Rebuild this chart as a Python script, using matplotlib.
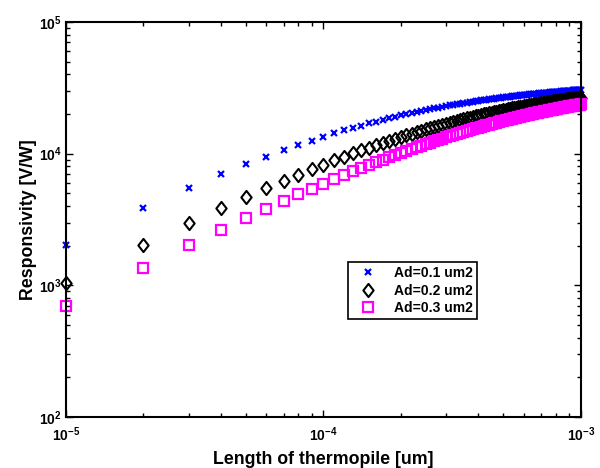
import numpy as np
import matplotlib
matplotlib.use('Agg')
import matplotlib.pyplot as plt
from matplotlib.path import Path

plt.rcParams['font.family'] = ['Liberation Sans', 'DejaVu Sans']
plt.rcParams['font.weight'] = 'bold'
plt.rcParams['mathtext.fontset'] = 'custom'
plt.rcParams['mathtext.rm'] = 'Liberation Sans:bold'
plt.rcParams['mathtext.bf'] = 'Liberation Sans:bold'

# length of thermopile, 1e-5 .. 1e-3 in steps of 1e-5
length = np.arange(1, 101) * 1e-5

resp_01 = [2040, 3860, 5490, 6960, 8290, 9510, 10620, 11640, 12580, 13450,
           14250, 15000, 15700, 16350, 16960, 17530, 18070, 18580, 19050, 19510,
           19930, 20340, 20720, 21090, 21440, 21770, 22090, 22390, 22680, 22950,
           23220, 23470, 23720, 23950, 24170, 24390, 24600, 24800, 24990, 25180,
           25360, 25530, 25700, 25860, 26020, 26170, 26320, 26460, 26600, 26730,
           26860, 26990, 27110, 27230, 27350, 27460, 27570, 27680, 27780, 27880,
           27980, 28070, 28170, 28260, 28350, 28430, 28520, 28600, 28680, 28760,
           28840, 28910, 28990, 29060, 29130, 29200, 29270, 29330, 29400, 29460,
           29520, 29580, 29640, 29700, 29760, 29810, 29870, 29920, 29980, 30030,
           30080, 30130, 30180, 30230, 30270, 30320, 30370, 30410, 30460, 30500]

resp_02 = [1040, 2030, 2960, 3840, 4670, 5460, 6210, 6930, 7610, 8260,
           8880, 9470, 10030, 10570, 11090, 11590, 12070, 12530, 12970, 13400,
           13810, 14200, 14580, 14950, 15300, 15640, 15980, 16300, 16610, 16910,
           17200, 17480, 17750, 18020, 18270, 18520, 18760, 19000, 19230, 19450,
           19670, 19880, 20090, 20290, 20480, 20670, 20860, 21040, 21210, 21390,
           21550, 21720, 21880, 22030, 22190, 22340, 22480, 22630, 22770, 22900,
           23040, 23170, 23300, 23420, 23550, 23670, 23790, 23900, 24020, 24130,
           24240, 24340, 24450, 24550, 24650, 24750, 24850, 24950, 25040, 25130,
           25220, 25310, 25400, 25490, 25570, 25660, 25740, 25820, 25900, 25980,
           26050, 26130, 26200, 26280, 26350, 26420, 26490, 26560, 26630, 26690]

resp_03 = [696, 1365, 2010, 2630, 3230, 3800, 4360, 4900, 5420, 5920,
           6400, 6870, 7330, 7770, 8190, 8610, 9010, 9400, 9780, 10140,
           10500, 10850, 11190, 11510, 11830, 12150, 12450, 12740, 13030, 13310,
           13590, 13850, 14110, 14370, 14620, 14860, 15100, 15330, 15560, 15780,
           16000, 16210, 16410, 16620, 16820, 17010, 17200, 17390, 17570, 17750,
           17930, 18100, 18270, 18430, 18600, 18760, 18910, 19070, 19220, 19360,
           19510, 19650, 19790, 19930, 20070, 20200, 20330, 20460, 20580, 20710,
           20830, 20950, 21070, 21190, 21300, 21410, 21520, 21630, 21740, 21850,
           21950, 22050, 22150, 22250, 22350, 22450, 22540, 22640, 22730, 22820,
           22910, 23000, 23090, 23170, 23260, 23340, 23430, 23510, 23590, 23670]

labels = ['Ad=0.1 um2', 'Ad=0.2 um2', 'Ad=0.3 um2']

# matlab style diamond (a bit taller than wide)
diamond = Path([(0, 1), (0.78, 0), (0, -1), (-0.78, 0), (0, 1)],
               [Path.MOVETO, Path.LINETO, Path.LINETO, Path.LINETO, Path.CLOSEPOLY])

fig = plt.figure(figsize=(6, 4.68), dpi=100)
ax = fig.add_axes([0.11, 0.109, 0.858, 0.844])

ax.plot(length, resp_01, linestyle='none', marker='x', color='#0000ff',
        markersize=3.8, markeredgewidth=1.6, label=labels[0], clip_on=False)
ax.plot(length, resp_02, linestyle='none', marker=diamond, color='black',
        markerfacecolor='none', markersize=9.5, markeredgewidth=1.5, label=labels[1], clip_on=False)
ax.plot(length, resp_03, linestyle='none', marker='s', color='#ff00ff',
        markerfacecolor='none', markersize=7.5, markeredgewidth=1.6, label=labels[2], clip_on=False)

ax.set_xscale('log')
ax.set_yscale('log')
ax.set_xlim(1e-5, 1e-3)
ax.set_ylim(1e2, 1e5)

ax.set_xticks([1e-5, 1e-4, 1e-3])
ax.set_xticklabels([r'$\mathbf{10^{-5}}$', r'$\mathbf{10^{-4}}$', r'$\mathbf{10^{-3}}$'])
ax.set_yticks([1e2, 1e3, 1e4, 1e5])
ax.set_yticklabels([r'$\mathbf{10^{2}}$', r'$\mathbf{10^{3}}$', r'$\mathbf{10^{4}}$', r'$\mathbf{10^{5}}$'])

ax.tick_params(which='both', direction='in', top=True, right=True, labelsize=10, width=1)
ax.tick_params(which='major', length=5)
ax.tick_params(which='minor', length=3)
ax.tick_params(axis='x', pad=6)
ax.tick_params(axis='y', pad=3)
for sp in ax.spines.values():
    sp.set_linewidth(1.5)

ax.set_xlabel('Length of thermopile [um]', fontsize=12.8, fontweight='bold', labelpad=5)
ax.set_ylabel('Responsivity [V/W]', fontsize=12.8, fontweight='bold', labelpad=1)

leg = ax.legend(loc='upper left', bbox_to_anchor=(0.535, 0.41), fontsize=10,
                fancybox=False, framealpha=1, edgecolor='black',
                handletextpad=0.8, borderpad=0.3, labelspacing=0.25, handlelength=2.2)
leg.get_frame().set_linewidth(1.2)

fig.savefig('out.png', dpi=100)
